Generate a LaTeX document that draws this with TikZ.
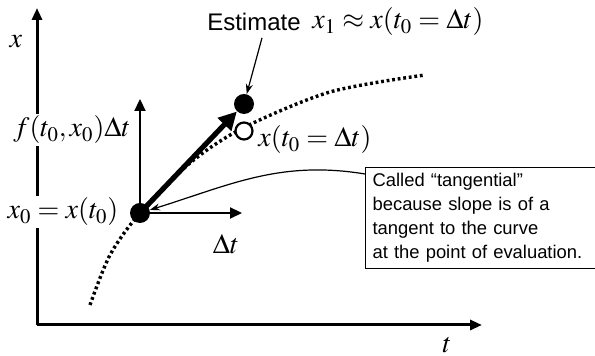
\documentclass[tikz,border=0pt]{standalone}
\usepackage{mathptmx}
\usepackage{fontspec}
\setmainfont{Liberation Sans}
\usetikzlibrary{arrows.meta,positioning}

\begin{document}
\begin{tikzpicture}[x=0.5pt,y=-0.5pt,
  axis/.style={line width=1.5pt,-{Triangle[length=6pt,width=5pt]}},
  thinarrow/.style={line width=1.1pt,-{Triangle[length=6pt,width=5.5pt]}},
  pointer/.style={line width=0.6pt,-{Stealth[length=5pt,width=3.5pt]}},
  mathlbl/.style={font=\fontsize{14}{16}\selectfont,fill=white,inner sep=1pt},
  dotcurve/.style={line width=1.7pt,dash pattern=on 1.4pt off 1.4pt},
  dot/.style={circle,fill=black,inner sep=0pt,minimum size=10pt}]
\useasboundingbox (0,0) rectangle (595,356);

% axes
\coordinate (origin) at (37,325);
\coordinate (xtop) at (37,8);
\coordinate (tend) at (482,325);
\draw[axis] (origin) -- (xtop);
\draw[axis] (origin) -- (tend);
\node[mathlbl] (xlbl) at (16,42) {$x$};
\node[mathlbl] (tlbl) at (447,345) {$t$};

% exact solution curve
\draw[dotcurve] plot[smooth] coordinates {(90,305) (110,255) (140,213) (190,163) (243,128) (330,92) (425,75)};

% points
\node[dot] (x0) at (140,213) {};
\node[dot] (x1) at (244,104) {};
\node[circle,draw,line width=1.1pt,fill=white,inner sep=0pt,minimum size=8.5pt] (xex) at (244,131) {};

% step arrows
\coordinate (ftop) at (140,99);
\coordinate (dtend) at (242,213);
\draw[thinarrow] (x0.center) -- (ftop);
\draw[thinarrow] (x0.center) -- (dtend);
\draw[line width=2.6pt,-{Triangle[length=9pt,width=9pt]}] (x0.center) -- (x1);

% labels
\node[mathlbl] (flbl) at (72,130) {$f(t_0,x_0)\Delta t$};
\node[mathlbl] (x0lbl) at (63,212) {$x_0=x(t_0)$};
\node[font=\fontsize{14}{16}\selectfont] (dtlbl) at (226,244) {$\Delta t$};
\node[font=\fontsize{14}{16}\selectfont,anchor=west,inner sep=1pt] (xexlbl) at (256,140) {$x(t_0=\Delta t)$};
\node[font=\fontsize{12}{14}\selectfont] (est) at (254,22) {Estimate};
\node[font=\fontsize{14}{16}\selectfont,anchor=west,inner sep=1pt] (x1lbl) at (310,22) {$x_1\approx x(t_0=\Delta t)$};
\draw[pointer] ([xshift=4pt]est.south) -- (x1);

% note box
\node[draw,line width=0.6pt,anchor=north west,align=left,text width=108pt,
  inner xsep=3.5pt,inner ysep=3pt,font=\fontsize{9.2}{12}\selectfont] (note) at (365,167)
  {Called “tangential”\\because slope is of a\\tangent to the curve\\at the point of evaluation.};
\draw[pointer] ([yshift=-3.5pt]note.north west) .. controls (280,160) and (230,185) .. (x0);
\end{tikzpicture}
\end{document}
